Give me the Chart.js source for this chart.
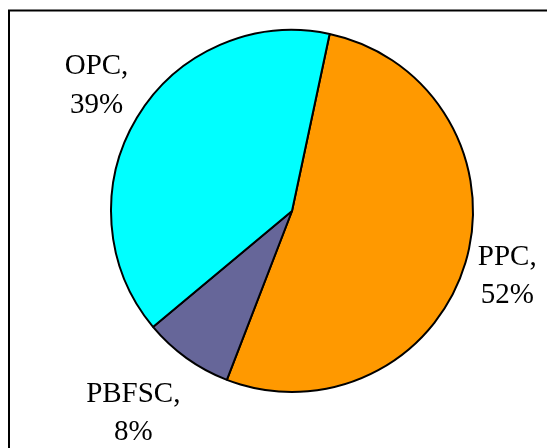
<!DOCTYPE html>
<html>
<head>
<meta charset="utf-8">
<script src="https://cdn.jsdelivr.net/npm/chart.js@4"></script>
<style>
  html, body { margin: 0; padding: 0; background: #ffffff; }
  #wrap { position: relative; width: 547px; height: 448px; }
</style>
</head>
<body>
<div id="wrap"><canvas id="c" width="547" height="448"></canvas></div>
<script>
const categories = ["PPC", "PBFSC", "OPC"];
const percentValues = [52, 8, 39];
const sliceColors = ["#FF9900", "#666699", "#00FFFF"];

const framePlugin = {
  id: 'frame',
  beforeDraw(chart) {
    const ctx = chart.ctx;
    ctx.save();
    ctx.fillStyle = '#ffffff';
    ctx.fillRect(0, 0, chart.width, chart.height);
    ctx.strokeStyle = '#000000';
    ctx.lineWidth = 2;
    ctx.strokeRect(9, 10.5, 700, 700);
    ctx.restore();
  }
};

const outsideLabels = {
  id: 'outsideLabels',
  afterDatasetsDraw(chart, args, opts) {
    const ctx = chart.ctx;
    const meta = chart.getDatasetMeta(0);
    ctx.save();
    ctx.font = opts.font;
    ctx.fillStyle = '#000000';
    ctx.textAlign = 'center';
    ctx.textBaseline = 'middle';
    meta.data.forEach((arc, i) => {
      const p = arc.getProps(['x', 'y', 'startAngle', 'endAngle', 'outerRadius'], true);
      const mid = (p.startAngle + p.endAngle) / 2 + (opts.angleShift[i] || 0) * Math.PI / 180;
      const r = p.outerRadius + opts.gap[i];
      const cx = p.x + Math.cos(mid) * r;
      const cy = p.y + Math.sin(mid) * r;
      const lines = [categories[i] + ",", percentValues[i] + "%"];
      const lh = opts.lineHeight;
      lines.forEach((t, k) => {
        ctx.fillText(t, cx, cy + (k - (lines.length - 1) / 2) * lh);
      });
    });
    ctx.restore();
  }
};

new Chart(document.getElementById('c'), {
  type: 'pie',
  data: {
    labels: categories,
    datasets: [{
      data: percentValues,
      backgroundColor: sliceColors,
      borderColor: '#000000',
      borderWidth: 2
    }]
  },
  options: {
    responsive: false,
    animation: false,
    rotation: 12,
    layout: { padding: { left: 110, top: 29, right: 73, bottom: 55 } },
    plugins: {
      legend: { display: false },
      tooltip: { enabled: false },
      outsideLabels: {
        font: '29px "Liberation Serif", "Times New Roman", serif',
        lineHeight: 38.5,
        gap: [44, 76, 51],
        angleShift: [0.4, 2.5, 1.5]
      }
    }
  },
  plugins: [framePlugin, outsideLabels]
});
</script>
</body>
</html>
